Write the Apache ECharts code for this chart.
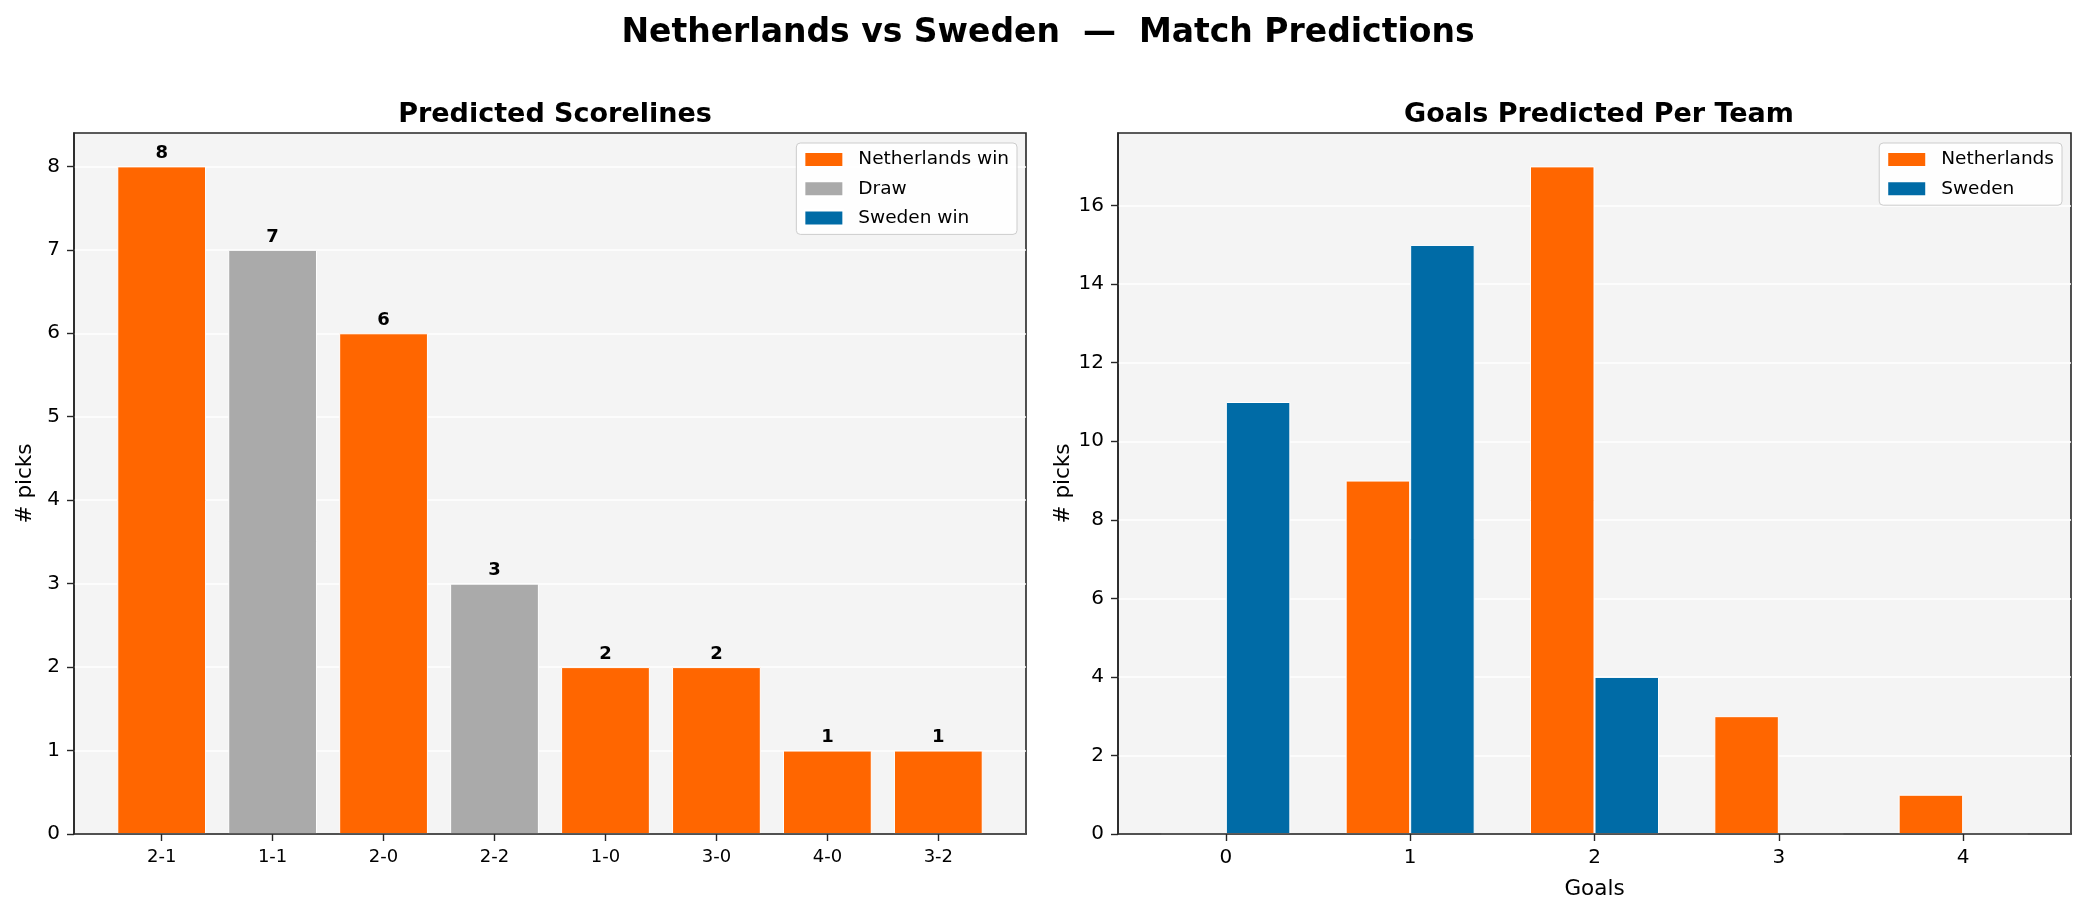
<!DOCTYPE html>
<html><head><meta charset="utf-8">
<script src="https://cdn.jsdelivr.net/npm/echarts@6/dist/echarts.min.js"></script>
<style>html,body{margin:0;padding:0;background:#fff}#chart{width:2086px;height:916px}</style>
</head><body><div id="chart"></div>
<script>
const mainTitle = 'Netherlands vs Sweden  \u2014  Match Predictions';
const leftTitle = 'Predicted Scorelines';
const rightTitle = 'Goals Predicted Per Team';
const scorelines = ['2-1','1-1','2-0','2-2','1-0','3-0','4-0','3-2'];
const scorelinePicks = [8,7,6,3,2,2,1,1];
const scorelineOutcome = ['Netherlands win','Draw','Netherlands win','Draw','Netherlands win','Netherlands win','Netherlands win','Netherlands win'];
const outcomes = ['Netherlands win','Draw','Sweden win'];
const goals = [0,1,2,3,4];
const netherlandsGoals = [0,9,17,3,1];
const swedenGoals = [11,15,4,0,0];
const leftYTicks = [0,1,2,3,4,5,6,7,8];
const rightYTicks = [0,2,4,6,8,10,12,14,16];

const ORANGE = '#FF6600', GREY = '#AAAAAA', BLUE = '#006BA6';
const outcomeColors = {'Netherlands win': ORANGE, 'Draw': GREY, 'Sweden win': BLUE};
const FONT = 'DejaVu Sans';
const AX = '#262626';

const chart = echarts.init(document.getElementById('chart'), null, {renderer: 'canvas'});

function xAxisBase(gridIndex, min, max, ticks, fmt, fontSize) {
  return {
    type: 'value', gridIndex, min, max, z: 5,
    axisLine: {show: true, onZero: false, lineStyle: {color: AX, width: 1.6}},
    axisTick: {show: true, customValues: ticks, length: 7, lineStyle: {color: AX, width: 1.4}},
    axisLabel: {show: true, customValues: ticks, formatter: fmt, fontSize, color: '#000', fontFamily: FONT, margin: 14},
    splitLine: {show: false}
  };
}
function yAxisBase(gridIndex, max, interval, ticks) {
  return {
    type: 'value', gridIndex, min: 0, max, interval,
    name: '# picks', nameLocation: 'middle', nameGap: 38, nameRotate: 90,
    nameTextStyle: {fontSize: 21.5, color: '#000', fontFamily: FONT},
    axisLine: {show: true, onZero: false, lineStyle: {color: AX, width: 1.6}},
    axisTick: {show: true, customValues: ticks, length: 7, lineStyle: {color: AX, width: 1.4}},
    axisLabel: {show: true, customValues: ticks, fontSize: 20, color: '#000', fontFamily: FONT, margin: 14},
    splitLine: {show: true, lineStyle: {color: '#FFFFFF', width: 1.6}}
  };
}

const leftSeries = outcomes.map(o => ({
  name: o, type: 'bar', stack: 'scorelines', xAxisIndex: 0, yAxisIndex: 0,
  barWidth: '80%',
  itemStyle: {color: outcomeColors[o], borderColor: '#fff', borderWidth: 1},
  label: {show: true, position: 'top', distance: 4, fontSize: 18, fontWeight: 'bold', color: '#000', fontFamily: FONT},
  data: scorelines.map((s, i) => [i, scorelinePicks[i]]).filter((d, i) => scorelineOutcome[i] === o)
}));

const rightSeries = [
  {name: 'Netherlands', values: netherlandsGoals, color: ORANGE},
  {name: 'Sweden', values: swedenGoals, color: BLUE}
].map(s => ({
  name: s.name, type: 'bar', xAxisIndex: 1, yAxisIndex: 1,
  barWidth: '35%', barGap: '0%',
  itemStyle: {color: s.color, borderColor: '#fff', borderWidth: 1},
  data: goals.map((g, i) => [g, s.values[i]])
}));

const legendCommon = {
  orient: 'vertical', top: 143, itemWidth: 39, itemHeight: 15, itemGap: 10.2,
  padding: [7, 8, 7, 7],
  backgroundColor: 'rgba(255,255,255,0.85)', borderColor: '#CCCCCC', borderWidth: 1, borderRadius: 4,
  icon: 'rect',
  textStyle: {fontSize: 18.5, color: '#000', fontFamily: FONT, padding: [0, 0, 0, 10]}
};

chart.setOption({
  animation: false,
  backgroundColor: '#FFFFFF',
  textStyle: {fontFamily: FONT},
  title: [
    {text: mainTitle, left: 1043, top: 28, textAlign: 'center', textVerticalAlign: 'middle',
     textStyle: {fontSize: 33, fontWeight: 'bold', color: '#000', fontFamily: FONT}},
    {text: leftTitle, left: 550, top: 110, textAlign: 'center', textVerticalAlign: 'middle',
     textStyle: {fontSize: 27, fontWeight: 'bold', color: '#000', fontFamily: FONT}},
    {text: rightTitle, left: 1594, top: 110, textAlign: 'center', textVerticalAlign: 'middle',
     textStyle: {fontSize: 27, fontWeight: 'bold', color: '#000', fontFamily: FONT}}
  ],
  legend: [
    Object.assign({}, legendCommon, {data: outcomes, right: 2086 - 1017}),
    Object.assign({}, legendCommon, {data: ['Netherlands', 'Sweden'], right: 2086 - 2062})
  ],
  grid: [
    {left: 74, top: 133, width: 952, height: 701, show: true, backgroundColor: '#F4F4F4', borderColor: AX, borderWidth: 1.6, containLabel: false},
    {left: 1118, top: 133, width: 953, height: 701, show: true, backgroundColor: '#F4F4F4', borderColor: AX, borderWidth: 1.6, containLabel: false}
  ],
  xAxis: [
    xAxisBase(0, -0.79, 7.79, scorelines.map((s, i) => i), v => scorelines[Math.round(v)] || '', 18),
    Object.assign(xAxisBase(1, -0.585, 4.585, goals, v => String(v), 20), {
      name: 'Goals', nameLocation: 'middle', nameGap: 44,
      nameTextStyle: {fontSize: 21.5, color: '#000', fontFamily: FONT}
    })
  ],
  yAxis: [
    yAxisBase(0, 8.4, 1, leftYTicks),
    yAxisBase(1, 17.85, 2, rightYTicks)
  ],
  series: leftSeries.concat(rightSeries)
});
</script></body></html>
